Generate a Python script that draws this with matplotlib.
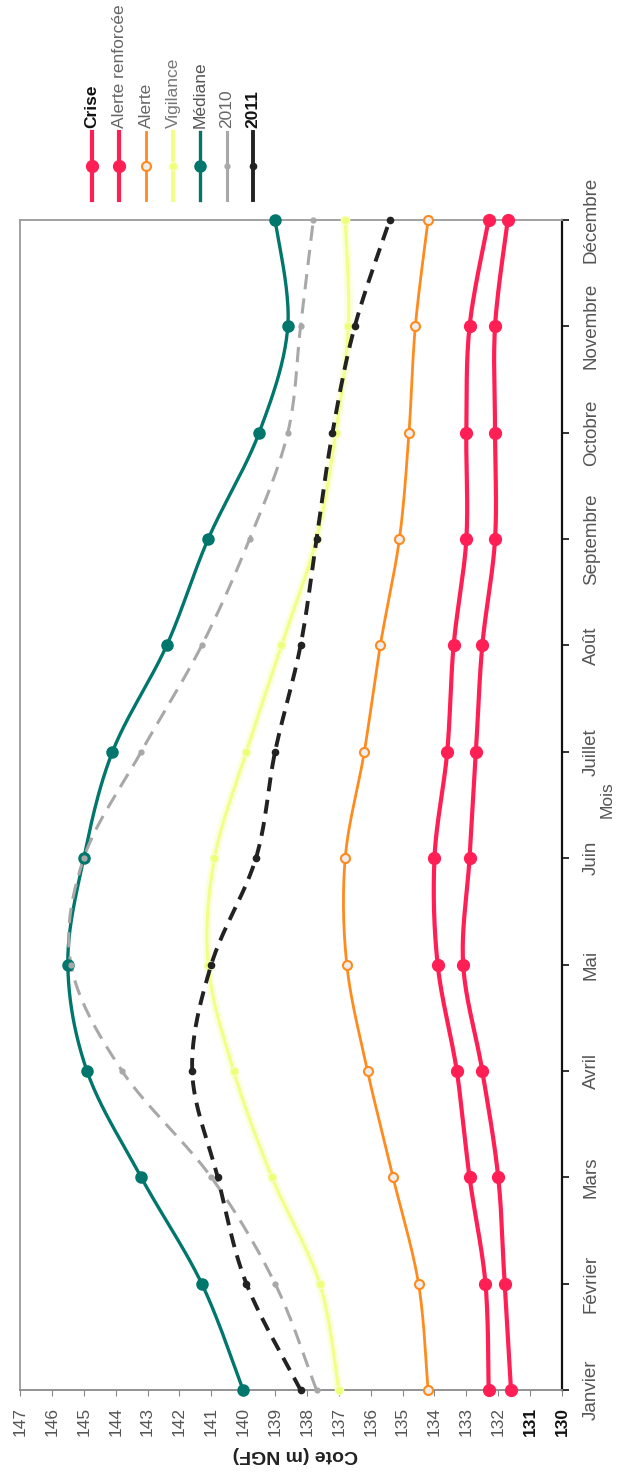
import numpy as np
import matplotlib
matplotlib.use("Agg")
import matplotlib.pyplot as plt
from matplotlib.lines import Line2D

plt.rcParams["font.family"] = ["Liberation Sans", "DejaVu Sans"]

months = ["Janvier", "Février", "Mars", "Avril", "Mai", "Juin", "Juillet",
          "Août", "Septembre", "Octobre", "Novembre", "Décembre"]

crise = [131.6, 131.8, 132.0, 132.5, 133.1, 132.9, 132.7, 132.5, 132.1, 132.1, 132.1, 131.7]
alerte_renforcee = [132.3, 132.4, 132.9, 133.3, 133.9, 134.0, 133.6, 133.4, 133.0, 133.0, 132.9, 132.3]
alerte = [134.2, 134.5, 135.3, 136.1, 136.75, 136.8, 136.2, 135.7, 135.1, 134.8, 134.6, 134.2]
vigilance = [137.0, 137.6, 139.1, 140.3, 141.1, 140.9, 139.9, 138.8, 137.7, 137.1, 136.7, 136.8]
mediane = [140.0, 141.3, 143.2, 144.9, 145.5, 145.0, 144.1, 142.4, 141.1, 139.5, 138.6, 139.0]
annee_2010 = [137.7, 139.0, 141.0, 143.8, 145.4, 145.0, 143.2, 141.3, 139.8, 138.6, 138.2, 137.8]
annee_2011 = [138.2, 139.9, 140.8, 141.6, 141.0, 139.6, 139.0, 138.2, 137.7, 137.2, 136.5, 135.4]

cote_ticks = list(range(130, 148))

W, H = 617, 1473


def smooth(ys, n=24):
    # catmull-rom, like the "smoothed line" option of the spreadsheet
    pts = np.column_stack([np.arange(len(ys)), ys]).astype(float)
    p = np.vstack([pts[0], pts, pts[-1]])
    out = []
    t = np.linspace(0, 1, n, endpoint=False)[:, None]
    for i in range(1, len(p) - 2):
        p0, p1, p2, p3 = p[i - 1], p[i], p[i + 1], p[i + 2]
        seg = 0.5 * (2 * p1 + (-p0 + p2) * t
                     + (2 * p0 - 5 * p1 + 4 * p2 - p3) * t ** 2
                     + (-p0 + 3 * p1 - 3 * p2 + p3) * t ** 3)
        out.append(seg)
    out.append(pts[-1:])
    return np.vstack(out)


def fx(px):
    return px / W


def fy(py):
    return 1 - py / H


fig = plt.figure(figsize=(W / 100, H / 100), dpi=100)
ax = fig.add_axes([fx(20), fy(1390), fx(562) - fx(20), fy(220) - fy(1390)])

idx = np.arange(len(months))

series = [
    # values, line kwargs, marker kwargs
    (crise, dict(color="#ff1f55", lw=3.0),
     dict(marker="o", ms=8.5, mfc="#ff1f55", mec="#ff1f55")),
    (alerte_renforcee, dict(color="#ff1f55", lw=3.0),
     dict(marker="o", ms=8.5, mfc="#ff1f55", mec="#ff1f55")),
    (alerte, dict(color="#ff8a1e", lw=2.0),
     dict(marker="o", ms=6.5, mfc="#eeeeee", mec="#ff8a1e", mew=1.5)),
    (mediane, dict(color="#00766c", lw=2.4),
     dict(marker="o", ms=8, mfc="#00766c", mec="#00766c")),
    (annee_2010, dict(color="#a8a8a8", lw=2.2, dashes=(5, 3)),
     dict(marker="o", ms=3.5, mfc="#a8a8a8", mec="#a8a8a8")),
    (annee_2011, dict(color="#222222", lw=2.8, dashes=(3.6, 2.2)),
     dict(marker="o", ms=4.5, mfc="#222222", mec="#222222")),
]

# vigilance drawn with a soft glow, as in the scan
c = smooth(vigilance)
ax.plot(c[:, 1], c[:, 0], color="#fbffdc", lw=6, solid_capstyle="round", zorder=2)
ax.plot(c[:, 1], c[:, 0], color="#f0ff8a", lw=2.2, zorder=2)
ax.plot(vigilance, idx, ls="none", marker="o", ms=6, mfc="#eeff78",
        mec="#f6ffbc", zorder=3, clip_on=False)

for vals, lkw, mkw in series:
    c = smooth(vals)
    ax.plot(c[:, 1], c[:, 0], zorder=3, clip_on=False, **lkw)
    ax.plot(vals, idx, ls="none", zorder=4, clip_on=False, **mkw)

ax.set_xlim(147, 130)
ax.set_ylim(0, 11)

ax.set_xticks(cote_ticks)
ax.set_xticklabels([str(v) for v in cote_ticks], rotation=90, fontsize=12.5,
                   color="#555555")
for lab in ax.get_xticklabels():
    if lab.get_text() in ("130", "131"):
        lab.set_color("#111111")
        lab.set_fontweight("bold")
ax.tick_params(axis="x", direction="out", length=4, color="#888888", pad=8)

ax.yaxis.tick_right()
ax.set_yticks(idx)
ax.set_yticklabels(months, rotation=90, fontsize=13.5, color="#555555",
                   va="center")
ax.tick_params(axis="y", direction="out", length=5, width=1.2, color="#111111",
               pad=10)

for side in ("top", "left"):
    ax.spines[side].set_color("#9a9a9a")
    ax.spines[side].set_linewidth(1.3)
ax.spines["bottom"].set_color("#8a8a8a")
ax.spines["bottom"].set_linewidth(1.3)
ax.spines["right"].set_color("#111111")
ax.spines["right"].set_linewidth(1.6)

fig.text(fx(295), fy(1455), "Cote (m NGF)", rotation=180, fontsize=14,
         fontweight="bold", color="#222222", ha="center", va="center")
fig.text(fx(607), fy(800), "Mois", rotation=90, fontsize=12.5,
         color="#555555", ha="center", va="center")

# legend, rotated like the rest of the chart
legend_items = [
    ("Crise", 92, dict(color="#ff1f55", lw=3.0), dict(marker="o", ms=8.5, mfc="#ff1f55", mec="#ff1f55"), "#111111", "bold"),
    ("Alerte renforcée", 119, dict(color="#ff1f55", lw=3.0), dict(marker="o", ms=8.5, mfc="#ff1f55", mec="#ff1f55"), "#666666", "normal"),
    ("Alerte", 146, dict(color="#ff8a1e", lw=2.0), dict(marker="o", ms=6.5, mfc="#eeeeee", mec="#ff8a1e", mew=1.5), "#666666", "normal"),
    ("Vigilance", 173, dict(color="#f0ff8a", lw=3.0), dict(marker="o", ms=6, mfc="#eeff78", mec="#f6ffbc"), "#777777", "normal"),
    ("Médiane", 200, dict(color="#00766c", lw=2.4), dict(marker="o", ms=8, mfc="#00766c", mec="#00766c"), "#555555", "normal"),
    ("2010", 227, dict(color="#a8a8a8", lw=2.2), dict(marker="o", ms=3.5, mfc="#a8a8a8", mec="#a8a8a8"), "#666666", "normal"),
    ("2011", 253, dict(color="#222222", lw=2.8), dict(marker="o", ms=4.5, mfc="#222222", mec="#222222"), "#111111", "bold"),
]
for name, px, lkw, mkw, tcol, weight in legend_items:
    fig.add_artist(Line2D([fx(px), fx(px)], [fy(132), fy(200)],
                          transform=fig.transFigure, **lkw))
    fig.add_artist(Line2D([fx(px)], [fy(166)], ls="none",
                          transform=fig.transFigure, **mkw))
    fig.text(fx(px), fy(128), name, rotation=90, fontsize=12.5, color=tcol,
             fontweight=weight, ha="center", va="bottom")

fig.savefig("out.png", dpi=100)
